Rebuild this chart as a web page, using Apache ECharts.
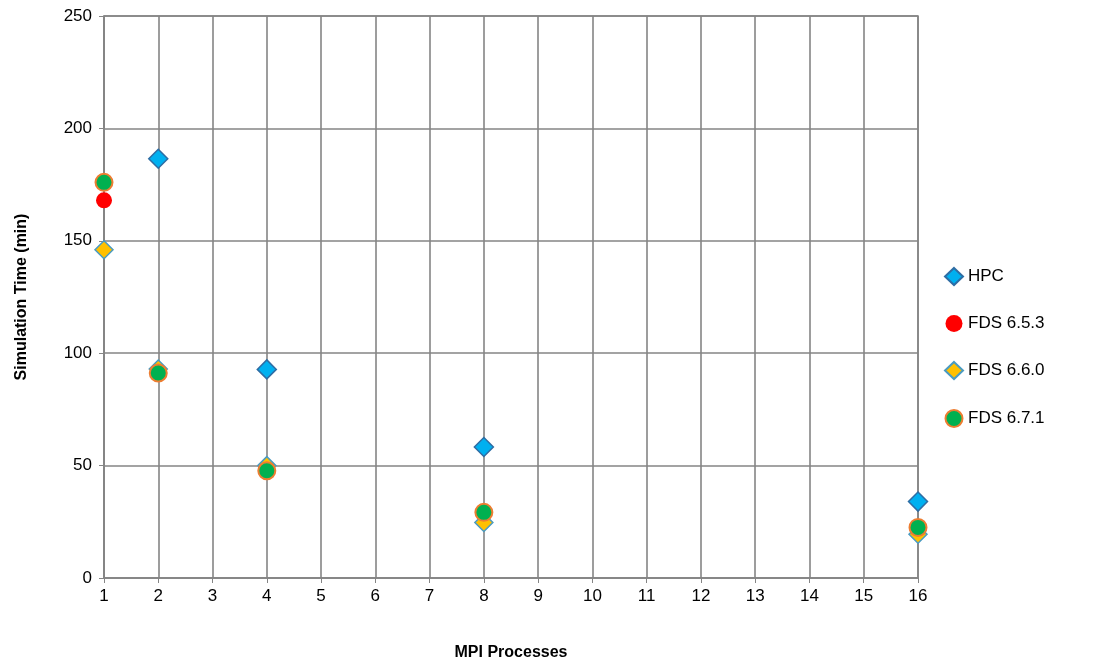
<!DOCTYPE html>
<html><head><meta charset="utf-8">
<script src="https://cdn.jsdelivr.net/npm/echarts@6/dist/echarts.min.js"></script>
<style>html,body{margin:0;padding:0;background:#fff;overflow:hidden}#c{width:1098px;height:666px}</style>
</head><body><div id="c"></div>
<script>
const hpcX = [2, 4, 8, 16];
const hpcY = [186.5, 92.8, 58.3, 34];
const fds653X = [1];
const fds653Y = [168];
const fds660X = [1, 2, 4, 8, 16];
const fds660Y = [146, 93, 50, 24.7, 19.5];
const fds671X = [1, 2, 4, 8, 16];
const fds671Y = [176, 91.2, 47.7, 29.2, 22.5];
const seriesNames = ['HPC', 'FDS 6.5.3', 'FDS 6.6.0', 'FDS 6.7.1'];

const pairs = (xs, ys) => xs.map((x, i) => [x, ys[i]]);
const font = 'Liberation Sans, Arial, sans-serif';
const chart = echarts.init(document.getElementById('c'));
chart.setOption({
  animation: false,
  grid: { left: 104, right: 180, top: 16, bottom: 83, show: true, borderColor: '#858585', borderWidth: 1.5 },
  xAxis: {
    type: 'value', min: 1, max: 16, interval: 1,
    name: 'MPI Processes', nameLocation: 'middle', nameGap: 67,
    nameTextStyle: { fontFamily: font, fontSize: 16, fontWeight: 'bold', color: '#000' },
    axisLine: { lineStyle: { color: '#858585', width: 1.5 } },
    axisTick: { show: true, length: 5, lineStyle: { color: '#858585' } },
    axisLabel: { fontFamily: font, fontSize: 17, color: '#000', margin: 10 },
    splitLine: { show: true, lineStyle: { color: '#858585', width: 1.6 } }
  },
  yAxis: {
    type: 'value', min: 0, max: 250, interval: 50,
    name: 'Simulation Time (min)', nameLocation: 'middle', nameGap: 74,
    nameTextStyle: { fontFamily: font, fontSize: 16, fontWeight: 'bold', color: '#000' },
    axisLine: { show: true, lineStyle: { color: '#858585', width: 1.5 } },
    axisTick: { show: true, length: 5, lineStyle: { color: '#858585' } },
    axisLabel: { fontFamily: font, fontSize: 17, color: '#000', margin: 12 },
    splitLine: { show: true, lineStyle: { color: '#858585', width: 1.6 } }
  },
  legend: {
    orient: 'vertical', left: 939, top: 262, itemGap: 29, itemWidth: 18, itemHeight: 17,
    textStyle: { fontFamily: font, fontSize: 17, color: '#000' },
    data: seriesNames
  },
  series: [
    { name: seriesNames[0], type: 'scatter', symbol: 'diamond', symbolSize: 19, data: pairs(hpcX, hpcY),
      itemStyle: { color: '#00b0f0', borderColor: '#2e6da4', borderWidth: 1.5, opacity: 1 } },
    { name: seriesNames[1], type: 'scatter', symbol: 'circle', symbolSize: 16, data: pairs(fds653X, fds653Y),
      itemStyle: { color: '#ff0000', opacity: 1 } },
    { name: seriesNames[2], type: 'scatter', symbol: 'diamond', symbolSize: 18, data: pairs(fds660X, fds660Y),
      itemStyle: { color: '#ffc000', borderColor: '#4a9bc2', borderWidth: 1.5, opacity: 1 } },
    { name: seriesNames[3], type: 'scatter', symbol: 'circle', symbolSize: 17, data: pairs(fds671X, fds671Y),
      itemStyle: { color: '#00b050', borderColor: '#ed7d31', borderWidth: 2, opacity: 1 } }
  ]
});
</script></body></html>
